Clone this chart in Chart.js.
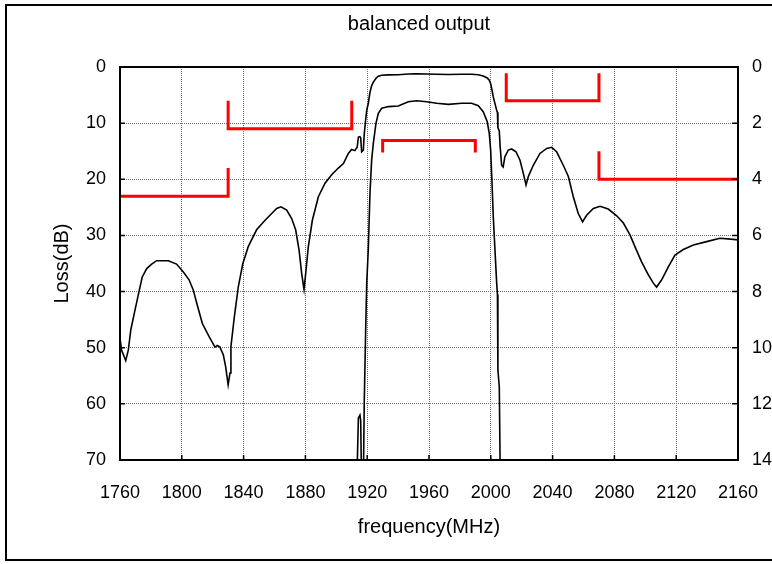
<!DOCTYPE html>
<html>
<head>
<meta charset="utf-8">
<script src="https://cdn.jsdelivr.net/npm/chart.js@4.4.1/dist/chart.umd.min.js"></script>
<style>
  body { margin: 0; background: #fff; overflow: hidden; }
  #wrap { position: relative; width: 772px; height: 564px; }
  #frame { position: absolute; left: 5px; top: 4px; width: 900px; height: 557px; border: 2px solid #000; box-sizing: border-box; pointer-events: none; }
</style>
</head>
<body>
<div id="wrap">
  <canvas id="myChart" width="772" height="564"></canvas>
  <div id="frame"></div>
</div>
<script>
// measured response (MHz, dB)
const freq = [1760, 1761, 1763.7, 1765.4, 1767, 1769.7, 1772.3, 1774.4, 1777.3, 1780.5, 1783.7, 1791.3, 1796.6, 1801, 1804.7, 1807.4, 1810.3, 1813.3, 1817.6, 1821.5, 1823, 1824.7, 1826.9, 1828.4, 1830, 1831.2, 1831.8, 1834, 1836.6, 1839.5, 1843, 1848.4, 1853.9, 1858.2, 1861.4, 1864.2, 1867.9, 1871.1, 1873.7, 1875.9, 1877.6, 1879.1, 1880.4, 1881.9, 1884.5, 1888.4, 1892.7, 1897, 1901.3, 1904.6, 1907.8, 1909.9, 1912, 1913.5, 1914.3, 1915.3, 1915.8, 1916.4, 1917.5, 1918.1, 1919, 1919.7, 1920.7, 1921.8, 1922.9, 1924, 1925.7, 1927.2, 1929.4, 1933.7, 1940.1, 1946.6, 1952, 1958.5, 1965, 1972.5, 1981.2, 1987.6, 1991.9, 1995.1, 1997.7, 1999, 1999.9, 2000.8, 2001.6, 2002.7, 2003.8, 2004.3, 2004.6, 2005.5, 2006, 2007, 2008, 2009.1, 2011.3, 2013.5, 2016.3, 2018.9, 2021, 2022.8, 2024.3, 2027.5, 2031.8, 2036.2, 2039.4, 2042.6, 2046.9, 2050.2, 2053.4, 2056.6, 2059.4, 2062, 2066.4, 2070.7, 2076, 2081.5, 2085.8, 2090.1, 2093.3, 2097.6, 2101.9, 2105.2, 2107.3, 2110.6, 2114.9, 2119.2, 2124.6, 2131.1, 2139.7, 2148.3, 2157, 2160];
const loss = [48.3, 50.4, 52.3, 50.4, 46.8, 43.3, 40.0, 37.4, 35.9, 35.1, 34.5, 34.5, 35.1, 36.5, 37.9, 39.7, 42.7, 45.7, 48.0, 49.9, 49.6, 49.9, 51.3, 53.4, 56.6, 54.5, 49.8, 44.5, 39.1, 35.0, 32.0, 29.0, 27.3, 26.1, 25.2, 24.9, 25.5, 27.0, 29.0, 32.6, 36.8, 39.6, 36.2, 32.0, 27.3, 23.1, 20.7, 19.2, 18.0, 17.2, 15.4, 14.7, 14.9, 14.3, 12.5, 12.4, 12.6, 15.1, 14.8, 11.9, 9.4, 7.7, 6.5, 4.5, 3.3, 2.7, 2.0, 1.65, 1.47, 1.41, 1.39, 1.24, 1.2, 1.24, 1.29, 1.33, 1.29, 1.29, 1.38, 1.59, 1.95, 2.36, 2.96, 4.14, 5.33, 6.52, 7.7, 8.1, 10.8, 11.4, 14, 17.5, 17.8, 16, 14.8, 14.6, 15.1, 16.6, 18.9, 21.0, 19.5, 17.5, 15.4, 14.5, 14.3, 15.1, 17.5, 19.5, 23.1, 26.1, 27.6, 26.4, 25.2, 24.8, 25.3, 26.5, 27.8, 29.9, 32.0, 34.7, 37.0, 38.5, 39.2, 37.9, 35.6, 33.5, 32.5, 31.7, 31.1, 30.5, 30.7, 30.8];

// spec masks
const mask1X = [1760, 1830, 1830];
const mask1Y = [23, 23, 18];
const mask2X = [1830, 1830, 1910, 1910];
const mask2Y = [6, 11, 11, 6];
const mask3X = [1930, 1930, 1990, 1990];   // right axis
const mask3Y = [3.05, 2.62, 2.62, 3.05];
const mask4X = [2010, 2010, 2070, 2070];
const mask4Y = [1.1, 6, 6, 1.1];
const mask5X = [2070, 2070, 2160];
const mask5Y = [15, 20, 20];

const xTicks = [1760, 1800, 1840, 1880, 1920, 1960, 2000, 2040, 2080, 2120, 2160];
const chartTitle = "balanced output";

function pts(xs, ys) {
  return xs.map((x, i) => ({ x: x, y: ys[i] }));
}

function lineSet(data, color, width, axis) {
  return {
    data: data,
    borderColor: color,
    borderWidth: width,
    pointRadius: 0,
    tension: 0,
    fill: false,
    yAxisID: axis
  };
}

const family = "'Liberation Sans', Arial, sans-serif";
const tickFont = { family: family, size: 18 };
const titleFont = { family: family, size: 20 };
const gridColor = "#6e6e6e";

// draws the title, the plot frame and the small inward tick marks
const framePlugin = {
  id: "framePlugin",
  afterDraw(chart) {
    const ctx = chart.ctx;
    const a = chart.chartArea;
    const sx = chart.scales.x, sy = chart.scales.y, sy2 = chart.scales.y2;
    ctx.save();
    ctx.fillStyle = "#000";
    ctx.font = "20px " + family;
    ctx.textAlign = "center";
    ctx.textBaseline = "middle";
    ctx.fillText(chartTitle, (a.left + a.right) / 2 - 10, 24);

    ctx.strokeStyle = "#000";
    ctx.lineWidth = 1.5;
    ctx.beginPath();
    sy.ticks.forEach(t => {
      const y = sy.getPixelForValue(t.value);
      ctx.moveTo(a.left, y); ctx.lineTo(a.left + 5, y);
    });
    sy2.ticks.forEach(t => {
      const y = sy2.getPixelForValue(t.value);
      ctx.moveTo(a.right - 6, y); ctx.lineTo(a.right, y);
    });
    sx.ticks.forEach(t => {
      const x = sx.getPixelForValue(t.value);
      ctx.moveTo(x, a.bottom); ctx.lineTo(x, a.bottom - 5);
    });
    ctx.stroke();
    ctx.lineWidth = 2;
    ctx.strokeRect(a.left, a.top, a.right - a.left, a.bottom - a.top);
    ctx.restore();
  }
};

const ctx = document.getElementById("myChart").getContext("2d");
const myChart = new Chart(ctx, {
  type: "line",
  data: {
    datasets: [
      lineSet(pts(freq, loss), "#000", 1.6, "y"),
      lineSet(pts(freq, loss), "#000", 1.6, "y2"),
      lineSet(pts(mask1X, mask1Y), "#ff0000", 3, "y"),
      lineSet(pts(mask2X, mask2Y), "#ff0000", 3, "y"),
      lineSet(pts(mask3X, mask3Y), "#ff0000", 3, "y2"),
      lineSet(pts(mask4X, mask4Y), "#ff0000", 3, "y"),
      lineSet(pts(mask5X, mask5Y), "#ff0000", 3, "y")
    ]
  },
  options: {
    responsive: false,
    animation: false,
    layout: { padding: { top: 67, left: 0, right: 0, bottom: 0 } },
    plugins: {
      legend: { display: false },
      tooltip: { enabled: false },
      title: { display: false }
    },
    scales: {
      x: {
        type: "linear",
        min: 1760,
        max: 2160,
        afterBuildTicks: s => { s.ticks = xTicks.map(v => ({ value: v })); },
        afterFit: s => { s.height = 104; s.paddingLeft = 0; s.paddingRight = 0; },
        ticks: { color: "#000", font: tickFont, padding: 22, maxRotation: 0, autoSkip: false, callback: v => String(v) },
        grid: { color: gridColor, lineWidth: 1, drawTicks: false },
        border: { display: false, dash: [1, 1] },
        title: { display: true, text: "frequency(MHz)", color: "#000", font: titleFont, padding: { top: 0, bottom: 25 } }
      },
      y: {
        position: "left",
        reverse: true,
        min: 0,
        max: 70,
        afterFit: s => { s.width = 120; s.paddingTop = 0; s.paddingBottom = 0; },
        ticks: { stepSize: 10, color: "#000", font: tickFont, padding: 14 },
        grid: { color: gridColor, lineWidth: 1, drawTicks: false },
        border: { display: false, dash: [1, 1] },
        title: { display: true, text: "Loss(dB)", color: "#000", font: titleFont, padding: { top: 50, bottom: 0 } }
      },
      y2: {
        position: "right",
        reverse: true,
        min: 0,
        max: 14,
        afterFit: s => { s.width = 34; s.paddingTop = 0; s.paddingBottom = 0; },
        ticks: { stepSize: 2, color: "#000", font: tickFont, padding: 14 },
        grid: { display: false, drawTicks: false },
        border: { display: false }
      }
    }
  },
  plugins: [framePlugin]
});
</script>
</body>
</html>
